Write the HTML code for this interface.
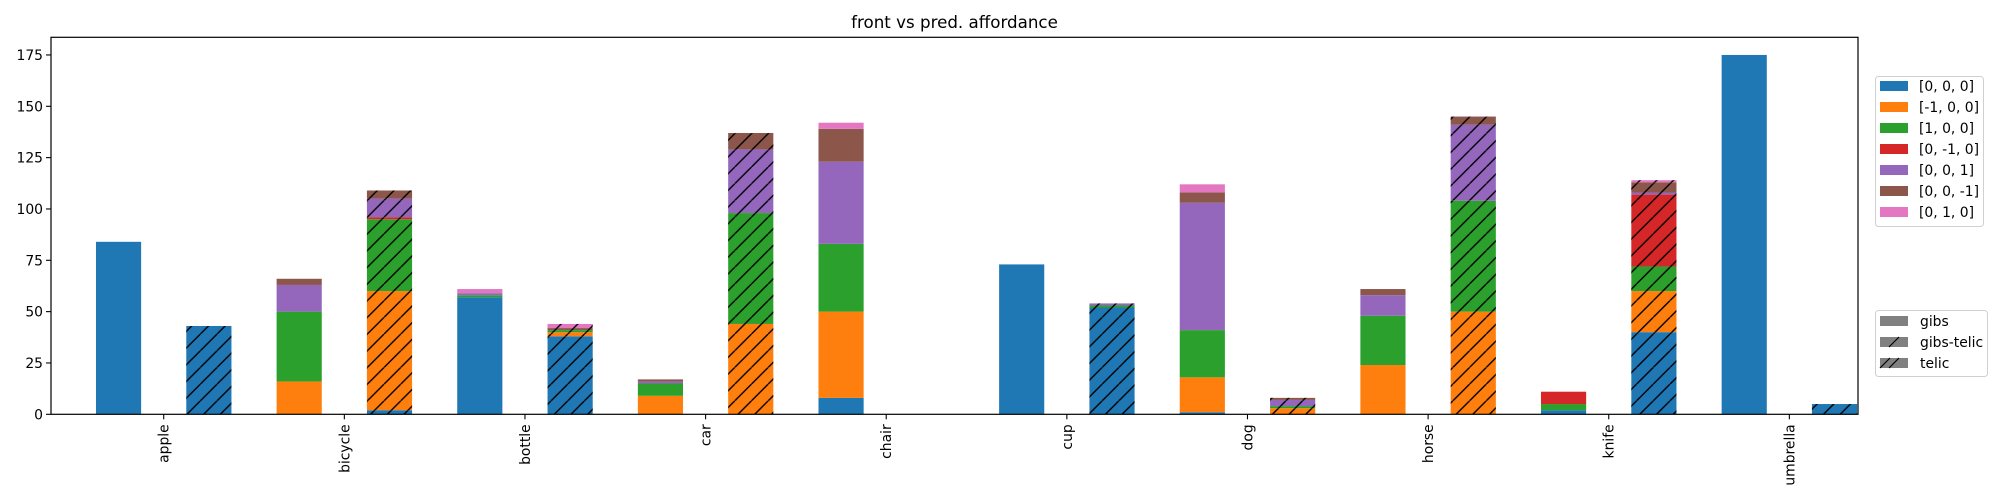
<!DOCTYPE html>
<html><head><meta charset="utf-8"><style>
html,body{margin:0;padding:0;background:#fff;}
svg{display:block;font-family:"DejaVu Sans","Liberation Sans",sans-serif;}
</style></head><body>
<svg id="chart" width="2000" height="500" viewBox="0 0 2000 500" xmlns="http://www.w3.org/2000/svg">
<defs>
<pattern id="hatch" patternUnits="userSpaceOnUse" width="16.7" height="16.7">
<line x1="0" y1="16.7" x2="16.7" y2="0" stroke="#000" stroke-width="1.4"/>
<line x1="-16.7" y1="16.7" x2="0" y2="0" stroke="#000" stroke-width="1.4"/>
<line x1="16.7" y1="16.7" x2="33.4" y2="0" stroke="#000" stroke-width="1.4"/>
</pattern>
<clipPath id="plotclip"><rect x="51" y="37.3" width="1807" height="377"/></clipPath>
</defs>
<text x="954.5" y="28" font-size="16.7" text-anchor="middle">front vs pred. affordance</text>
<g id="bars" clip-path="url(#plotclip)"></g>
<g id="axes"></g>
<g id="legend"></g>
</svg>
<script>
const categories = ["apple","bicycle","bottle","car","chair","cup","dog","horse","knife","umbrella"];
const seriesNames = ["[0, 0, 0]","[-1, 0, 0]","[1, 0, 0]","[0, -1, 0]","[0, 0, 1]","[0, 0, -1]","[0, 1, 0]"];
const seriesColors = ["#1f77b4","#ff7f0e","#2ca02c","#d62728","#9467bd","#8c564b","#e377c2"];
// gibs values per category, per series
const gibs = [
  [84,0,0,0,0,0,0],
  [0,16,34,0,13,3,0],
  [57,0,1,0,1,0,2],
  [0,9,6,0,1,1,0],
  [8,42,33,0,40,16,3],
  [73,0,0,0,0,0,0],
  [1,17,23,0,62,5,4],
  [0,24,24,0,10,3,0],
  [2,0,3,6,0,0,0],
  [175,0,0,0,0,0,0]
];
const gibsTelic = [
  [0,0,0,0,0,0,0],[0,0,0,0,0,0,0],[0,0,0,0,0,0,0],[0,0,0,0,0,0,0],[0,0,0,0,0,0,0],
  [0,0,0,0,0,0,0],[0,0,0,0,0,0,0],[0,0,0,0,0,0,0],[0,0,0,0,0,0,0],[0,0,0,0,0,0,0]
];
const telic = [
  [43,0,0,0,0,0,0],
  [2,58,35,1,9,4,0],
  [38,2,1,0,0,1,2],
  [0,44,54,0,31,8,0],
  [0,0,0,0,0,0,0],
  [52,0,1,0,1,0,0],
  [0,3,1,0,3,1,0],
  [0,50,54,0,37,4,0],
  [40,20,12,35,1,5,1],
  [5,0,0,0,0,0,0]
];
const yTicks = [0,25,50,75,100,125,150,175];
const groupNames = ["gibs","gibs-telic","telic"];

const NS = "http://www.w3.org/2000/svg";
const L=51, R=1858, T=37.3, B=414.3;
const xMin=-0.624, xMax=9.38, yMax=183.6;
const xs = v => L + (v - xMin) / (xMax - xMin) * (R - L);
const ys = v => B - v / yMax * (B - T);
const barW = 0.25;
function mk(tag, attrs, parent){const e=document.createElementNS(NS,tag);for(const k in attrs)e.setAttribute(k,attrs[k]);parent.appendChild(e);return e;}

const barsG = document.getElementById('bars');
const groups=[gibs,gibsTelic,telic];
const offsets=[-0.25,0,0.25];
groups.forEach((data,gi)=>{
  data.forEach((vals,ci)=>{
    let base=0;
    vals.forEach((v,si)=>{
      if(v<=0) return;
      const x0=xs(ci+offsets[gi]-barW/2), x1=xs(ci+offsets[gi]+barW/2);
      const r=mk('rect',{x:x0,y:ys(base+v),width:x1-x0,height:ys(base)-ys(base+v),fill:seriesColors[si]},barsG);
      
      
      if(gi>0){
        const h=mk('rect',{x:x0,y:ys(base+v),width:x1-x0,height:ys(base)-ys(base+v),fill:'url(#hatch)'},barsG);
        
        
      }
      base+=v;
    });
  });
});

const axG=document.getElementById('axes');
const frame=mk('rect',{x:L,y:T,width:R-L,height:B-T,fill:'none',stroke:'#000','stroke-width':1.2},axG);


yTicks.forEach(t=>{
  const y=ys(t);
  const tk=mk('line',{x1:L-5,x2:L,y1:y,y2:y,stroke:'#000','stroke-width':1.1},axG);
  
  
  const tx=mk('text',{x:L-8,y:y+5,'font-size':13.9,'text-anchor':'end'},axG);
  tx.textContent=t;
  
  
});
categories.forEach((c,i)=>{
  const x=xs(i);
  const tk=mk('line',{x1:x,x2:x,y1:B,y2:B+5,stroke:'#000','stroke-width':1.1},axG);
  
  
  const tx=mk('text',{x:0,y:0,'font-size':13.9,'text-anchor':'end',transform:`translate(${x+5},${B+10}) rotate(-90)`},axG);
  tx.textContent=c;
  
  
});

const lg=document.getElementById('legend');
const box1=mk('rect',{x:1875.5,y:76.5,width:108,height:150,rx:3,fill:'#fff',stroke:'#d0d0d0','stroke-width':1},lg);


seriesNames.forEach((n,i)=>{
  const cy=86+i*21;
  const sw=mk('rect',{x:1880,y:cy-5,width:28,height:10,fill:seriesColors[i]},lg);
  
  
  const t=mk('text',{x:1919,y:cy+5,'font-size':13.9},lg);
  t.textContent=n;
  
  
});
const box2=mk('rect',{x:1875.5,y:310.5,width:112,height:66,rx:3,fill:'#fff',stroke:'#d0d0d0','stroke-width':1},lg);


groupNames.forEach((n,i)=>{
  const cy=321+i*21;
  const sw=mk('rect',{x:1880,y:cy-5,width:28,height:10,fill:'#808080'},lg);
  
  
  if(i>=1){
    const ln=mk('line',{x1:1889,y1:cy+5,x2:1899,y2:cy-5,stroke:'#000','stroke-width':1.2},lg);
    
    
  }
  if(i===2){
    sw.setAttribute('fill','#808080');
    const ln2=mk('line',{x1:1880,y1:cy+5,x2:1890,y2:cy-5,stroke:'#000','stroke-width':1.2},lg);
    
    
  }
  const t=mk('text',{x:1920,y:cy+5,'font-size':13.9},lg);
  t.textContent=n;
  
  
});
</script>
</body></html>
